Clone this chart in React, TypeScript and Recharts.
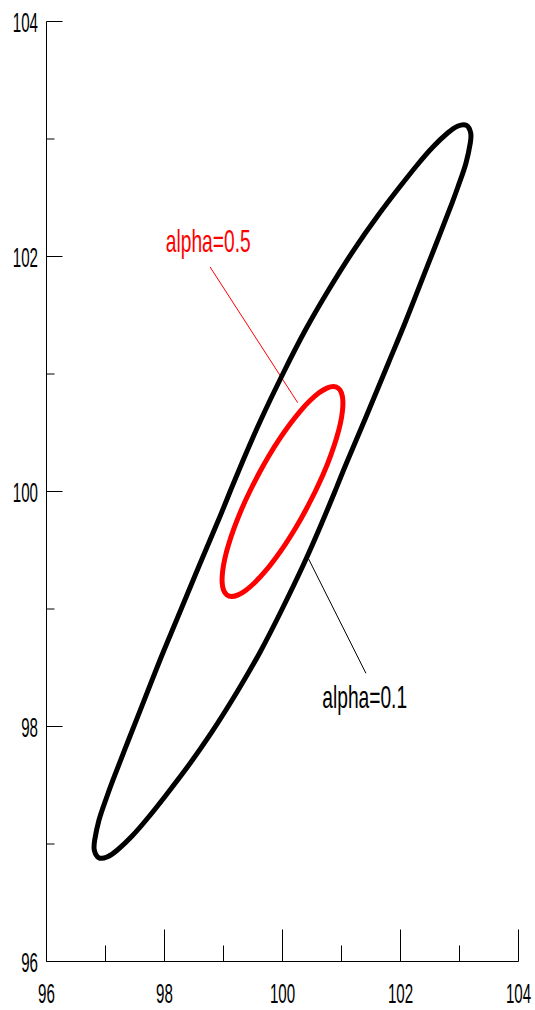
import React from "react";
import { ScatterChart, Scatter, XAxis, YAxis, ReferenceLine, ReferenceDot } from "recharts";

// Outer (alpha=0.1) confidence contour, traced around the loop, [x, y]
const outerRegion: [number, number][] = [
  [99.122, 100.013], [99.334, 100.268], [99.632, 100.609], [100.022, 101.017],
  [100.388, 101.374], [100.781, 101.715], [101.208, 102.055], [101.612, 102.345],
  [101.985, 102.591], [102.283, 102.779], [102.549, 102.932], [102.798, 103.051],
  [102.975, 103.111], [103.119, 103.115], [103.19, 103.051], [103.183, 102.966],
  [103.11, 102.796], [102.997, 102.626], [102.873, 102.455], [102.61, 102.115],
  [102.342, 101.774], [102.076, 101.434], [101.795, 101.094], [101.422, 100.643],
  [101.085, 100.243], [100.878, 99.987], [100.666, 99.732], [100.368, 99.391],
  [99.978, 98.983], [99.612, 98.626], [99.219, 98.285], [98.792, 97.945],
  [98.388, 97.655], [98.015, 97.409], [97.717, 97.221], [97.451, 97.068],
  [97.202, 96.949], [97.025, 96.889], [96.881, 96.885], [96.81, 96.949],
  [96.817, 97.034], [96.89, 97.204], [97.003, 97.374], [97.127, 97.545],
  [97.39, 97.885], [97.658, 98.226], [97.924, 98.566], [98.205, 98.906],
  [98.578, 99.357], [98.915, 99.757], [99.122, 100.013],
];

// Inner (alpha=0.5) confidence contour
const innerRegion: [number, number][] = [
  [100.555, 100.0], [100.697, 100.155], [100.816, 100.306], [100.911, 100.447],
  [100.979, 100.574], [101.016, 100.685], [101.023, 100.774], [100.999, 100.84],
  [100.944, 100.88], [100.861, 100.894], [100.752, 100.88], [100.619, 100.84],
  [100.468, 100.774], [100.302, 100.685], [100.128, 100.574], [99.95, 100.447],
  [99.773, 100.306], [99.603, 100.155], [99.445, 100.0], [99.303, 99.845],
  [99.184, 99.694], [99.089, 99.553], [99.021, 99.426], [98.984, 99.315],
  [98.977, 99.226], [99.001, 99.16], [99.056, 99.12], [99.139, 99.106],
  [99.248, 99.12], [99.381, 99.16], [99.532, 99.226], [99.698, 99.315],
  [99.872, 99.426], [100.05, 99.553], [100.227, 99.694], [100.397, 99.845],
  [100.555, 100.0],
];

const xTicks = [96, 97, 98, 99, 100, 101, 102, 103, 104];
const yTicks = [96, 97, 98, 99, 100, 101, 102, 103, 104];

const outerLabel = { text: "alpha=0.1", x: 100.674, y: 98.157 };
const innerLabel = { text: "alpha=0.5", x: 98.022, y: 102.038 };
const outerLeader = [{ x: 100.437, y: 99.431 }, { x: 101.414, y: 98.453 }];
const innerLeader = [{ x: 98.772, y: 101.911 }, { x: 100.257, y: 100.756 }];

const FONT = "'Liberation Sans', Arial, sans-serif";

const toPoints = (pts: [number, number][]) => pts.map(([x, y]) => ({ x, y }));

// ticks point inward; even values get the long tick and a label
function XTick({ x, y, payload }: any) {
  const major = payload.value % 2 === 0;
  return (
    <g>
      <line x1={x} y1={y} x2={x} y2={y - (major ? 32 : 16)} stroke="#000" strokeWidth={1} />
      {major && (
        <text
          transform={`translate(${x},${y + 41}) scale(0.54,1)`}
          textAnchor="middle"
          fontSize={28}
          fontFamily={FONT}
          fill="#000"
        >
          {payload.value}
        </text>
      )}
    </g>
  );
}

function YTick({ x, y, payload }: any) {
  const major = payload.value % 2 === 0;
  return (
    <g>
      <line x1={x} y1={y} x2={x + (major ? 16 : 8)} y2={y} stroke="#000" strokeWidth={1} />
      {major && (
        <text
          transform={`translate(${x - 8.5},${y + 10.5}) scale(0.54,1)`}
          textAnchor="end"
          fontSize={28}
          fontFamily={FONT}
          fill="#000"
        >
          {payload.value}
        </text>
      )}
    </g>
  );
}

function labelShape(text: string, color: string) {
  return (p: any) => (
    <text
      transform={`translate(${p.cx},${p.cy}) scale(0.6,1)`}
      fontSize={32}
      fontFamily={FONT}
      fill={color}
    >
      {text}
    </text>
  );
}

export default function App() {
  return (
    <div style={{ position: "absolute", left: 0, top: 0, width: 535, height: 1010, background: "#fff" }}>
      <ScatterChart width={535} height={1010} margin={{ top: 21.5, right: 16.5, bottom: 0, left: 0 }}>
        <XAxis
          type="number"
          dataKey="x"
          domain={[96, 104]}
          ticks={xTicks}
          interval={0}
          allowDataOverflow
          height={48.5}
          tickSize={0}
          tickMargin={0}
          tickLine={false}
          axisLine={{ stroke: "#000", strokeWidth: 1 }}
          tick={<XTick />}
        />
        <YAxis
          type="number"
          dataKey="y"
          domain={[96, 104]}
          ticks={yTicks}
          interval={0}
          allowDataOverflow
          width={46.5}
          tickSize={0}
          tickMargin={0}
          tickLine={false}
          axisLine={{ stroke: "#000", strokeWidth: 1 }}
          tick={<YTick />}
        />
        <Scatter
          data={toPoints(outerRegion)}
          line={{ stroke: "#000", strokeWidth: 5, strokeLinejoin: "round" }}
          lineJointType="natural"
          shape={() => <g />}
          isAnimationActive={false}
        />
        <Scatter
          data={toPoints(innerRegion)}
          line={{ stroke: "#ff0000", strokeWidth: 5, strokeLinejoin: "round" }}
          lineJointType="natural"
          shape={() => <g />}
          isAnimationActive={false}
        />
        <ReferenceLine segment={innerLeader} stroke="#ff0000" strokeWidth={1} />
        <ReferenceLine segment={outerLeader} stroke="#000" strokeWidth={1} />
        <ReferenceDot x={innerLabel.x} y={innerLabel.y} r={0} shape={labelShape(innerLabel.text, "#ff0000")} />
        <ReferenceDot x={outerLabel.x} y={outerLabel.y} r={0} shape={labelShape(outerLabel.text, "#000")} />
      </ScatterChart>
    </div>
  );
}
